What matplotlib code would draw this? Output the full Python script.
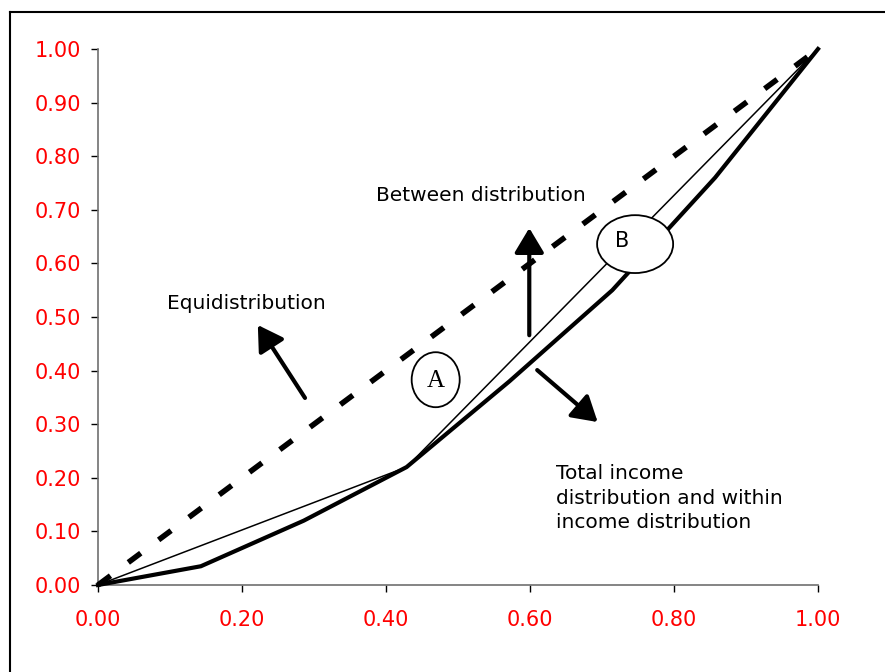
import matplotlib
matplotlib.use("Agg")
import matplotlib.pyplot as plt
from matplotlib.patches import Ellipse
from matplotlib.lines import Line2D

# Data
x_total = [0.0, 0.1429, 0.2857, 0.4286, 0.5714, 0.7143, 0.8571, 1.0]
y_total = [0.0, 0.035, 0.12, 0.22, 0.38, 0.55, 0.76, 1.0]
x_between = [0.0, 0.4286, 1.0]
y_between = [0.0, 0.22, 1.0]
x_equi = [0.0, 1.0]
y_equi = [0.0, 1.0]
xticks = [0.0, 0.2, 0.4, 0.6, 0.8, 1.0]
yticks = [0.0, 0.1, 0.2, 0.3, 0.4, 0.5, 0.6, 0.7, 0.8, 0.9, 1.0]

fig = plt.figure(figsize=(8.85, 6.72), dpi=100)
top_y = 1 - 11.5 / 672
left_x = 9.5 / 885
fig.add_artist(Line2D([left_x, 1.05], [top_y, top_y], transform=fig.transFigure,
                      color="black", lw=1.5))
fig.add_artist(Line2D([left_x, left_x], [-0.05, top_y], transform=fig.transFigure,
                      color="black", lw=1.5))
ax = fig.add_axes([98/885, 1 - 585/672, 720/885, 536/672])

ax.plot(x_equi, y_equi, color="black", lw=4.0, dashes=(2.8, 4.0),
        clip_on=False, dash_capstyle="butt", zorder=3)
ax.plot(x_between, y_between, color="black", lw=1.1, clip_on=False, zorder=3)
ax.plot(x_total, y_total, color="black", lw=3.0, clip_on=False, zorder=3)

ax.set_xlim(0, 1)
ax.set_ylim(0, 1)
ax.set_xticks(xticks)
ax.set_yticks(yticks)
ax.set_xticklabels([f"{v:.2f}" for v in xticks])
ax.set_yticklabels([f"{v:.2f}" for v in yticks])
for s in ["top", "right"]:
    ax.spines[s].set_visible(False)
for s in ["left", "bottom"]:
    ax.spines[s].set_color("#707070")
    ax.spines[s].set_linewidth(1.2)
ax.tick_params(axis="both", direction="out", length=5, width=1.0,
               colors="black", labelcolor="#ff0000", labelsize=15)
ax.tick_params(axis="y", pad=7)
ax.tick_params(axis="x", pad=13)

# Annotations
arrow = dict(arrowstyle="-|>,head_length=0.5,head_width=0.3", lw=3,
             color="black", mutation_scale=30, shrinkA=0, shrinkB=0)
ax.annotate("", xy=(0.222, 0.485), xytext=(0.2875, 0.349), arrowprops=arrow,
            annotation_clip=False)
ax.annotate("", xy=(0.599, 0.666), xytext=(0.599, 0.466), arrowprops=arrow,
            annotation_clip=False)
ax.annotate("", xy=(0.694, 0.304), xytext=(0.610, 0.401), arrowprops=arrow,
            annotation_clip=False)

fs = 14.5
ax.text(0.096, 0.526, "Equidistribution", fontsize=fs, ha="left", va="center")
ax.text(0.386, 0.726, "Between distribution", fontsize=fs, ha="left", va="center")
ax.text(0.636, 0.162, "Total income\ndistribution and within\nincome distribution",
        fontsize=fs, ha="left", va="center", linespacing=1.35)

ea = Ellipse((0.469, 0.383), 0.0667, 0.1026, facecolor="white",
             edgecolor="black", lw=1.3, zorder=5, clip_on=False)
ax.add_patch(ea)
ax.text(0.469, 0.381, "A", fontsize=18, family="Liberation Serif",
        ha="center", va="center", zorder=6)
eb = Ellipse((0.746, 0.636), 0.1056, 0.108, facecolor="white",
             edgecolor="black", lw=1.3, zorder=5, clip_on=False)
ax.add_patch(eb)
ax.text(0.728, 0.642, "B", fontsize=15, ha="center", va="center", zorder=6)

fig.savefig("out.png", dpi=100)
